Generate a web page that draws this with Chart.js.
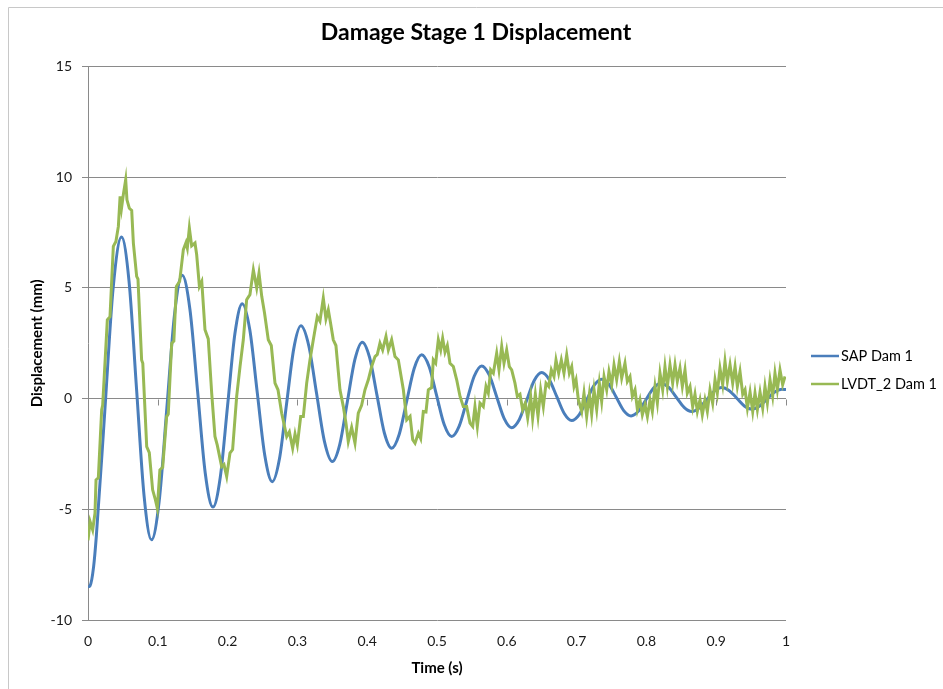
<!DOCTYPE html>
<html>
<head>
<meta charset="utf-8">
<script src="https://cdn.jsdelivr.net/npm/chart.js@4/dist/chart.umd.min.js"></script>
<style>
  html, body { margin: 0; padding: 0; background: #ffffff; }
  canvas { display: block; }
</style>
</head>
<body>
<canvas id="chart" width="943" height="689"></canvas>
<script>
// SAP model response, Damage Stage 1 (time in s, displacement in mm)
const sapTime = [
  0.000, 0.003, 0.008, 0.012, 0.024, 0.036, 0.048, 0.0588, 0.0695, 0.0803, 0.091, 0.102, 0.113, 0.124,
  0.135, 0.146, 0.157, 0.168, 0.179, 0.1895, 0.200, 0.2105, 0.221, 0.2318, 0.2425, 0.2533,
  0.264, 0.2743, 0.2845, 0.2948, 0.305, 0.3163, 0.3275, 0.3388, 0.350, 0.3608, 0.3715, 0.3823,
  0.393, 0.4035, 0.414, 0.4245, 0.435, 0.4458, 0.4565, 0.4673, 0.478, 0.4888, 0.4995, 0.5103,
  0.521, 0.5318, 0.5425, 0.5533, 0.564, 0.5748, 0.5855, 0.5963, 0.607, 0.6178, 0.6285, 0.6393,
  0.650, 0.6608, 0.6715, 0.6823, 0.693, 0.7038, 0.7145, 0.7253, 0.736, 0.7465, 0.757, 0.7675,
  0.778, 0.7888, 0.7995, 0.8103, 0.821, 0.832, 0.843, 0.854, 0.865, 0.8758, 0.8865, 0.8973,
  0.908, 0.9188, 0.9295, 0.9403, 0.951, 0.9618, 0.9725, 0.9833, 0.994, 1.000
];
const sapDisp = [
  -8.50, -8.45, -7.60, -6.19, -0.60, 4.99, 7.30, 5.30, 0.46, -4.38, -6.38, -4.63, -0.41, 3.82,
  5.57, 4.04, 0.34, -3.37, -4.90, -3.55, -0.31, 2.94, 4.29, 3.11, 0.27, -2.57,
  -3.75, -2.72, -0.23, 2.26, 3.29, 2.39, 0.23, -1.94, -2.84, -2.05, -0.15, 1.76,
  2.55, 1.85, 0.16, -1.54, -2.24, -1.62, -0.13, 1.36, 1.98, 1.44, 0.14, -1.17,
  -1.71, -1.24, -0.12, 1.01, 1.48, 1.07, 0.09, -0.90, -1.31, -0.95, -0.07, 0.82,
  1.18, 0.86, 0.10, -0.67, -0.99, -0.72, -0.06, 0.61, 0.88, 0.64, 0.05, -0.54,
  -0.78, -0.56, -0.04, 0.48, 0.70, 0.51, 0.06, -0.39, -0.58, -0.42, -0.04, 0.34,
  0.50, 0.36, 0.02, -0.33, -0.47, -0.34, -0.03, 0.29, 0.42, 0.41
];

// LVDT_2 measured response, Damage Stage 1
const lvdtTime = [
  0.000, 0.003, 0.0067, 0.010, 0.0115, 0.0148, 0.0196, 0.021, 0.0277, 0.0315, 0.0363, 0.040,
  0.0435, 0.046, 0.048, 0.0506, 0.054, 0.0558, 0.0592, 0.0626, 0.065, 0.0697, 0.0716, 0.0768,
  0.0785, 0.0841, 0.0878, 0.0926, 0.096, 0.0993, 0.103, 0.107, 0.1127, 0.115, 0.1199, 0.123,
  0.1266, 0.1313, 0.1366, 0.1404, 0.1423, 0.1452, 0.1485, 0.1533, 0.1557, 0.1596, 0.163, 0.1676,
  0.1723, 0.1772, 0.1819, 0.1852, 0.1915, 0.1948, 0.1987, 0.2034, 0.2072, 0.213, 0.2178, 0.2225,
  0.2273, 0.232, 0.2369, 0.2417, 0.245, 0.2489, 0.2529, 0.2583, 0.2626, 0.2679, 0.2722, 0.2775,
  0.2847, 0.2885, 0.2932, 0.2966, 0.2999, 0.3047, 0.3085, 0.3133, 0.318, 0.3228, 0.3285, 0.3323,
  0.3371, 0.3409, 0.3443, 0.3476, 0.3514, 0.3552, 0.361, 0.3658, 0.3696, 0.3729, 0.3777, 0.3825,
  0.3872, 0.392, 0.3968, 0.4016, 0.4064, 0.4112, 0.4145, 0.4183, 0.4221, 0.4269, 0.4303, 0.435,
  0.4398, 0.4446, 0.4518, 0.4566, 0.4614, 0.4652, 0.4685, 0.4733, 0.4766, 0.4804, 0.4842, 0.4876,
  0.4923, 0.4947, 0.4981, 0.5019, 0.5053, 0.5081, 0.5115, 0.5148, 0.5186, 0.5234, 0.5282, 0.533,
  0.5377, 0.5425, 0.5473, 0.5511, 0.5544, 0.5578, 0.5616, 0.5663, 0.5702, 0.5735, 0.5769, 0.5807,
  0.5855, 0.5888, 0.5927, 0.596, 0.5998, 0.6036, 0.607, 0.6117, 0.6151, 0.6189, 0.6227, 0.6265,
  0.6299, 0.6342, 0.637, 0.6409, 0.6447, 0.6485, 0.6523, 0.6562, 0.660, 0.6638, 0.6676, 0.6705,
  0.6743, 0.6781, 0.6819, 0.6858, 0.6896, 0.693, 0.6963, 0.6992, 0.7025, 0.7073, 0.7106, 0.7144,
  0.7183, 0.7216, 0.725, 0.7288, 0.7326, 0.7359, 0.7393, 0.7431, 0.7464, 0.7503, 0.7536, 0.7574,
  0.7612, 0.7646, 0.7693, 0.7727, 0.7765, 0.7799, 0.7837, 0.7871, 0.7908, 0.7942, 0.798, 0.8014,
  0.8052, 0.8085, 0.8123, 0.8157, 0.8195, 0.8233, 0.8266, 0.830, 0.8338, 0.8376, 0.841, 0.8443,
  0.8481, 0.8515, 0.8553, 0.8586, 0.8625, 0.8663, 0.8696, 0.873, 0.8768, 0.8801, 0.8839, 0.8873,
  0.8911, 0.8949, 0.8983, 0.9016, 0.9054, 0.9093, 0.9126, 0.916, 0.9198, 0.9236, 0.927, 0.9303,
  0.9341, 0.938, 0.9413, 0.9447, 0.9485, 0.9523, 0.9556, 0.959, 0.9628, 0.9666, 0.9699, 0.9733,
  0.9771, 0.9809, 0.9842, 0.9876, 0.9914, 0.9952, 0.9986
];
const lvdtDisp = [
  -6.40, -5.55, -5.93, -5.18, -3.67, -3.58, -0.50, -0.30, 3.56, 3.70, 6.88, 7.10,
  7.78, 9.14, 8.60, 9.21, 9.89, 8.98, 8.60, 8.50, 7.03, 5.52, 5.40, 1.75,
  1.60, -2.17, -2.44, -4.12, -4.50, -4.95, -3.22, -3.10, -0.81, -0.70, 2.50, 2.60,
  5.07, 5.30, 6.73, 7.05, 6.80, 7.71, 6.90, 7.03, 6.50, 5.07, 5.30, 3.11,
  2.70, 0.25, -1.71, -2.10, -3.07, -2.98, -3.52, -2.46, -2.30, 0.10, 1.45, 2.66,
  4.47, 4.70, 5.82, 5.00, 5.67, 4.62, 3.87, 2.66, 2.40, 0.70, 0.40, -0.66,
  -1.71, -1.50, -2.24, -1.60, -2.09, -0.81, -0.81, 0.70, 1.75, 2.66, 3.71, 3.50,
  4.54, 3.60, 4.01, 3.40, 2.66, 2.40, 0.40, -0.36, -1.11, -1.94, -1.30, -2.01,
  -0.66, -0.30, 0.40, 0.85, 1.45, 1.90, 2.00, 2.51, 2.20, 2.81, 2.20, 2.66,
  1.90, 1.75, 0.40, -0.96, -0.80, -1.86, -2.01, -1.56, -1.80, -0.58, -0.60, 0.40,
  0.50, 1.75, 1.60, 2.66, 2.20, 2.73, 2.10, 2.40, 1.60, 1.45, 0.85, 0.10,
  -0.36, -0.36, -1.11, -1.26, -0.36, -1.26, -0.20, -0.36, 0.55, 0.25, 1.30, 1.15,
  2.05, 1.30, 2.36, 1.60, 2.20, 1.45, 1.30, 0.70, 0.10, 0.20, -0.50, -0.20,
  -0.88, 0.10, -0.88, 0.20, -0.80, 0.40, -0.36, 0.70, 0.55, 1.30, 1.00, 1.75,
  1.15, 1.75, 1.15, 1.98, 1.15, 1.45, 0.55, 0.85, -0.05, -0.58, 0.25, -0.81,
  0.20, -0.70, 0.40, -0.50, 0.70, -0.13, 1.00, 0.40, 1.23, 0.63, 1.53, 0.85,
  1.68, 0.93, 1.60, 0.78, 1.00, 0.10, 0.40, -0.50, -0.05, -0.73, -0.28, -0.81,
  -0.05, -0.58, 0.55, -0.20, 1.15, 0.40, 1.45, 0.55, 1.53, 0.70, 1.53, 0.78,
  1.38, 0.55, 1.30, 0.25, 0.55, -0.36, 0.20, -0.58, -0.05, -0.73, -0.05, -0.58,
  0.40, -0.20, 0.85, 0.25, 1.38, 0.63, 1.68, 0.78, 1.53, 0.70, 1.45, 0.55,
  1.23, 0.20, 0.40, -0.43, 0.30, -0.58, 0.25, -0.50, 0.30, -0.43, 0.55, -0.20,
  0.85, 0.10, 1.15, 0.40, 1.30, 0.63, 1.00
];

// Axis tick values
const timeTicks = [0, 0.1, 0.2, 0.3, 0.4, 0.5, 0.6, 0.7, 0.8, 0.9, 1];
const dispTicks = [-10, -5, 0, 5, 10, 15];

const FONT = 'Lato, "Open Sans", sans-serif';
const GRID = '#8a8a8a';

const toPoints = (xs, ys) => xs.map((x, i) => ({ x: x, y: ys[i] }));

// Outer chart frame
const framePlugin = {
  id: 'frame',
  beforeDraw(chart) {
    const c = chart.ctx;
    c.save();
    c.fillStyle = '#ffffff';
    c.fillRect(0, 0, chart.width, chart.height);
    c.strokeStyle = '#c8c8c8';
    c.lineWidth = 1;
    c.beginPath();
    c.moveTo(8.5, chart.height + 2);
    c.lineTo(8.5, 7.5);
    c.lineTo(chart.width + 2, 7.5);
    c.stroke();
    c.restore();
  }
};

// Horizontal axis crossing at zero, with its tick marks
const zeroAxisPlugin = {
  id: 'zeroAxis',
  beforeDatasetsDraw(chart) {
    const c = chart.ctx;
    const xs = chart.scales.x;
    const y0 = Math.round(chart.scales.y.getPixelForValue(0)) + 0.5;
    c.save();
    c.strokeStyle = GRID;
    c.lineWidth = 1;
    c.beginPath();
    timeTicks.forEach(t => {
      const px = Math.round(xs.getPixelForValue(t)) + 0.5;
      c.moveTo(px, y0);
      c.lineTo(px, y0 + 6);
    });
    c.stroke();
    c.restore();
  }
};

// Series key on the right
const keyPlugin = {
  id: 'seriesKey',
  afterDraw(chart) {
    const c = chart.ctx;
    const area = chart.chartArea;
    c.save();
    c.font = '14.5px ' + FONT;
    c.textBaseline = 'middle';
    c.textAlign = 'left';
    chart.data.datasets.forEach((ds, i) => {
      const y = 356 + i * 28;
      const x0 = area.right + 25;
      c.strokeStyle = ds.borderColor;
      c.lineWidth = 2.5;
      c.beginPath();
      c.moveTo(x0, y);
      c.lineTo(x0 + 28, y);
      c.stroke();
      c.fillStyle = '#000000';
      c.fillText(ds.label, x0 + 30, y);
    });
    c.restore();
  }
};

new Chart(document.getElementById('chart'), {
  type: 'line',
  data: {
    datasets: [
      {
        label: 'SAP Dam 1',
        data: toPoints(sapTime, sapDisp),
        borderColor: '#4a7ebb',
        borderWidth: 3,
        pointRadius: 0,
        cubicInterpolationMode: 'monotone',
        fill: false,
        order: 1
      },
      {
        label: 'LVDT_2 Dam 1',
        data: toPoints(lvdtTime, lvdtDisp),
        borderColor: '#98b954',
        borderWidth: 3,
        pointRadius: 0,
        tension: 0,
        fill: false,
        order: 0
      }
    ]
  },
  options: {
    responsive: false,
    animation: false,
    devicePixelRatio: 1,
    layout: { padding: { left: 9, right: 0, top: 0, bottom: 0 } },
    plugins: {
      legend: { display: false },
      tooltip: { enabled: false },
      title: {
        display: true,
        text: 'Damage Stage 1 Displacement',
        color: '#000000',
        font: { family: FONT, size: 23, weight: 'bold' },
        padding: { top: 19, bottom: 20 }
      }
    },
    scales: {
      x: {
        type: 'linear',
        position: 'bottom',
        min: 0,
        max: 1,
        afterBuildTicks: s => { s.ticks = timeTicks.map(v => ({ value: v })); },
        ticks: {
          color: '#1a1a1a',
          font: { family: FONT, size: 14 },
          padding: 13,
          maxRotation: 0,
          callback: v => String(Number(v.toFixed(1)))
        },
        grid: { display: false, drawTicks: false },
        border: { display: false },
        title: {
          display: true,
          text: 'Time (s)',
          color: '#000000',
          font: { family: FONT, size: 15, weight: 'bold' },
          padding: { top: 0, bottom: 12 }
        },
        afterFit: s => { s.height = 69; }
      },
      y: {
        type: 'linear',
        position: 'left',
        min: -10,
        max: 15,
        afterBuildTicks: s => { s.ticks = dispTicks.map(v => ({ value: v })); },
        ticks: {
          color: '#1a1a1a',
          font: { family: FONT, size: 14 },
          padding: 10
        },
        grid: { color: GRID, lineWidth: 1, tickLength: 6, drawTicks: true },
        border: { display: true, color: GRID, width: 1 },
        title: {
          display: true,
          text: 'Displacement (mm)',
          color: '#000000',
          font: { family: FONT, size: 15, weight: 'bold' },
          padding: { top: 19, bottom: 0 }
        },
        afterFit: s => { s.width = 79; }
      },
      keySpace: {
        type: 'linear',
        position: 'right',
        display: true,
        ticks: { display: false },
        grid: { display: false },
        border: { display: false },
        afterFit: s => { s.width = 157; }
      }
    }
  },
  plugins: [framePlugin, zeroAxisPlugin, keyPlugin]
});
</script>
</body>
</html>
